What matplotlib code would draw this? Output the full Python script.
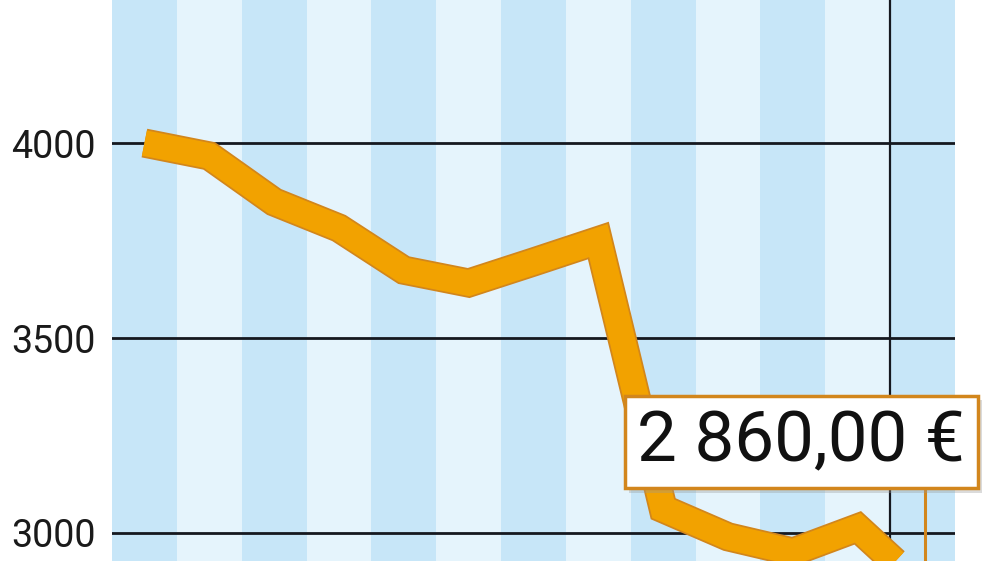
import numpy as np
import matplotlib
matplotlib.use("Agg")
import matplotlib.pyplot as plt
import matplotlib.patheffects as pe

plt.rcParams["font.family"] = ["Roboto", "DejaVu Sans"]

# monthly values (13 periods), last one is the labelled value
values = [4000, 3967, 3849, 3782, 3674, 3641, 3695, 3750, 3062, 2990, 2951, 3013, 2860]
yticks = [3000, 3500, 4000]
last_label = "2 860,00 €"
year_break = 12          # vertical separator between periods 12 and 13

BAND_DARK = "#c7e6f8"
BAND_LIGHT = "#e5f4fc"
FILL = "#f2a200"
EDGE = "#d2861c"
GRID = "#15181f"

n = len(values)
x = np.arange(n) + 0.5

fig = plt.figure(figsize=(10, 5.61), dpi=100)
ax = fig.add_axes([0.112, 0.0, 0.843, 1.0])
ax.set_xlim(0, n)
ax.set_ylim(2928, 4367)

for i in range(n):
    ax.axvspan(i, i + 1, color=BAND_DARK if i % 2 == 0 else BAND_LIGHT, lw=0, zorder=0)

for yv in yticks:
    ax.axhline(yv, color=GRID, lw=2.0, zorder=1)
ax.axvline(year_break, color=GRID, lw=1.6, zorder=1)

ax.plot(x, values, color=FILL, lw=18.5, solid_joinstyle="miter", solid_capstyle="butt",
        path_effects=[pe.Stroke(linewidth=21, foreground=EDGE), pe.Normal()], zorder=3)

# callout from last point up to the label box
ax.plot([x[-1] + 0.04, x[-1] + 0.04], [values[-1], 3190], color=EDGE, lw=2.2, zorder=4, clip_on=False)
t = ax.text(10.63, 3233, last_label, fontsize=51, color="#111111", ha="center", va="center",
            zorder=5, clip_on=False,
            bbox=dict(boxstyle="square,pad=0.18", fc="white", ec=EDGE, lw=2.5))
t.get_bbox_patch().set_path_effects([pe.SimplePatchShadow(offset=(3, -3), shadow_rgbFace="#999999", alpha=0.35),
                                     pe.Normal()])

ax.set_yticks(yticks)
ax.set_yticklabels([str(v) for v in yticks], fontsize=27, color="#1a1a1a")
ax.tick_params(axis="y", length=0, pad=12)
ax.set_xticks([])
for s in ax.spines.values():
    s.set_visible(False)

fig.savefig("out.png", dpi=100, facecolor="white")
